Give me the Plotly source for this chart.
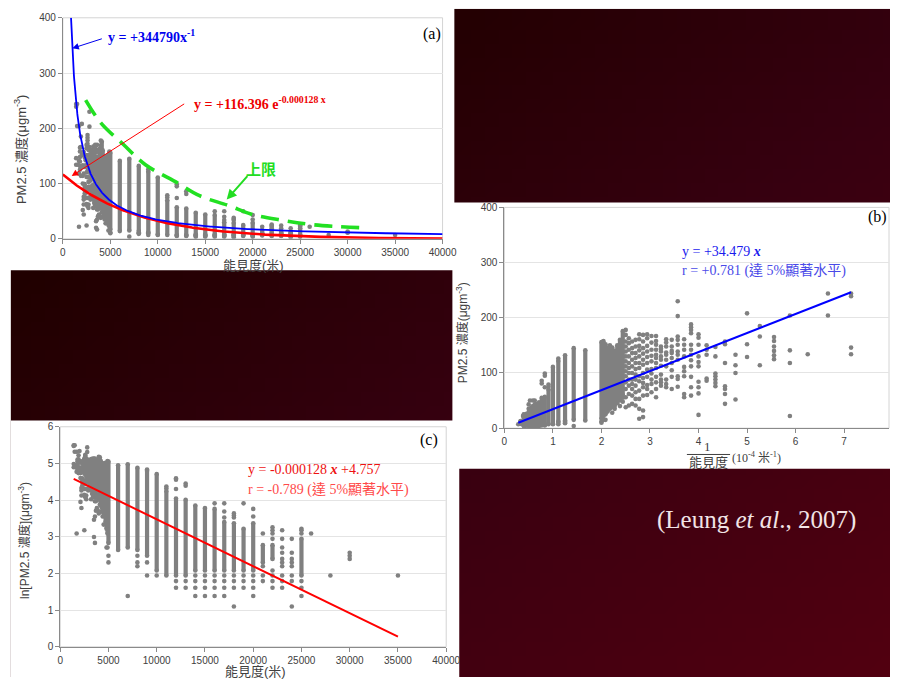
import math, zlib, struct, base64
import plotly.graph_objects as go

W, H = 904, 683

# ---------------- data (visibility in m, PM2.5 in ug/m3) ----------------
# individually readable points for visibility < 4100 m
cloud_vis = [1400, 1500, 1600, 1700, 1800, 1900, 2000, 2100, 2200, 2300, 2400, 2500, 2600,
             2700, 2800, 2900, 3000, 3100, 3200, 3300, 3400, 3500, 3600, 3700, 3800, 3900, 4000]
cloud_pm = [
    [244, 239, 146, 134],
    [244, 204],
    [134],
    [204, 141, 118, 22],
    [165, 158, 148, 140, 132, 125],
    [185, 166, 114],
    [208, 152, 129],
    [133, 114, 100, 52],
    [157, 152, 118, 76, 71, 62, 44],
    [147, 130, 99, 94, 88, 82, 76],
    [150, 142, 133, 90, 86],
    [170, 164, 151, 130, 120, 112, 84, 74, 63, 24],
    [188, 183, 178, 172, 151, 142, 133, 123, 112, 93, 74, 59],
    [161, 151, 142, 130, 111, 103, 94, 62, 56],
    [230, 203, 166, 160, 151, 139, 133, 124, 94, 89, 75],
    [160, 148, 140, 136, 127, 118, 105, 93, 71],
    [161, 155, 148, 137, 133, 124, 112, 88, 80, 74],
    [148, 144, 139, 130, 124, 113, 97, 88, 83, 77],
    [167, 158, 151, 142, 133, 127, 118, 109, 93, 83, 71, 56],
    [167, 155, 142, 131, 121, 107, 99, 88, 80, 65],
    [170, 163, 149, 139, 129, 118, 106, 93, 78, 71, 60],
    [169, 157, 145, 135, 124, 115, 100, 91, 82, 74, 59, 32, 20],
    [170, 161, 149, 141, 130, 118, 109, 94, 85, 68, 53, 35, 17],
    [160, 148, 136, 127, 118, 107, 97, 88, 77, 65, 53, 41],
    [157, 145, 136, 124, 112, 100, 88, 80, 71, 59, 44],
    [163, 154, 142, 130, 118, 109, 100, 88, 77, 62, 41],
    [178, 169, 157, 148, 139, 130, 121, 112, 103, 94, 83, 71, 56, 38],
]

# densely packed columns: visibility, lowest and highest PM2.5 of the packed run
dense_vis = [4100, 4200, 4300, 4400, 4500, 4600, 4700, 4800, 4900, 5000, 6000, 7000, 8000, 9000,
             10000, 11000, 12000, 13000, 14000, 15000, 16000, 17000, 18000, 19000, 20000, 21000,
             22000, 25000]
dense_lo = [60, 50, 45, 40, 38, 35, 30, 25, 22, 17, 14, 15, 14, 12, 8, 7, 7, 7, 8, 8, 8, 8, 8, 8, 8,
            10, 11, 7]
dense_hi = [176, 160, 150, 140, 146, 150, 145, 152, 158, 156, 141, 145, 132, 122, 111, 70, 57, 55,
            47, 44, 43, 30, 29, 25, 29, 16, 16, 19]

# separate points outside the packed runs
extra_vis = [4100, 4200, 4400, 4500, 4800, 4900, 5000, 7000, 8000, 9000, 10000, 11000, 12000, 13000,
             14000, 15000, 16000, 17000, 18000, 19000, 20000, 21000, 22000, 23000, 24000, 25000,
             26000, 28000, 30000, 35000]
extra_pm = [
    [48, 55], [40], [35], [28], [15], [15], [12, 10], [4], [12, 10, 9], [126, 10, 7], [7], [79, 75],
    [99, 95, 74, 6, 5], [86, 81, 6, 5], [7, 6, 5, 4], [7, 6, 5, 4], [50, 7, 6, 5, 4],
    [50, 40, 34, 7, 6, 5, 4], [38, 36, 34, 7, 6, 5, 3], [50, 7, 6, 5], [43, 35, 7, 6, 5, 4],
    [22, 9, 7, 6], [26, 24, 22, 19, 8, 7, 6, 5], [24, 19, 15, 13, 11, 10, 9, 7, 6, 5],
    [19, 13, 11, 10, 9, 7, 6, 3], [25, 24, 22, 6, 5, 4], [22], [7], [13, 12, 11], [7],
]

# hand-drawn upper-limit curve in panel (a)
upper_vis = [2400, 4000, 6300, 8700, 12100, 14400, 17500, 19800, 23000, 26400, 31500]
upper_pm = [251, 210, 172, 134, 101, 78, 60, 45, 34, 25.5, 20]

# fitted equations shown in the figure
pow_coef = 344790.0          # y = 344790 x^-1
exp_a, exp_b = 116.396, -0.000128
lin_b_slope = 34.479
lin_c_slope, lin_c_icpt = -0.000128, 4.757

# ---------------- helpers ----------------
def px(x):
    return x / W

def py(y):
    return 1 - y / H

GRAY = "#808080"
pts_v, pts_p = [], []
for v, ps in zip(cloud_vis + extra_vis, cloud_pm + extra_pm):
    for p in ps:
        pts_v.append(v)
        pts_p.append(p)
for v, lo, hi in zip(dense_vis, dense_lo, dense_hi):
    pts_v += [v, v]
    pts_p += [lo, hi]


def seg_xy(fx, fy):
    xs, ys = [], []
    for v, lo, hi in zip(dense_vis, dense_lo, dense_hi):
        xs += [fx(v), fx(v), None]
        ys += [fy(lo), fy(hi), None]
    return xs, ys


fig = go.Figure()
panels = [
    ("x", "y", lambda v: v, lambda p: p),
    ("x2", "y2", lambda v: 1e4 / v, lambda p: p),
    ("x3", "y3", lambda v: v, lambda p: math.log(p)),
]
for xa, ya, fx, fy in panels:
    sx, sy = seg_xy(fx, fy)
    fig.add_trace(go.Scatter(x=sx, y=sy, mode="lines", xaxis=xa, yaxis=ya,
                             line=dict(color=GRAY, width=4.2), hoverinfo="skip"))
    fig.add_trace(go.Scatter(x=[fx(v) for v in pts_v], y=[fy(p) for p in pts_p], mode="markers",
                             xaxis=xa, yaxis=ya, marker=dict(color=GRAY, size=4.6, line=dict(width=0)),
                             hoverinfo="skip"))

# panel (a) curves
x_start = pow_coef / 400
xs_pow = sorted(set([x_start + i * 20 for i in range(200)] +
                    [x_start + i * (40000 - x_start) / 400 for i in range(401)]))
xs_exp = [i * 100 for i in range(401)]
fig.add_trace(go.Scatter(x=xs_exp, y=[exp_a * math.exp(exp_b * x) for x in xs_exp],
                         mode="lines", line=dict(color="#ff0000", width=2.6), xaxis="x", yaxis="y"))
fig.add_trace(go.Scatter(x=xs_pow, y=[pow_coef / x for x in xs_pow], mode="lines",
                         line=dict(color="#0000ff", width=1.8), xaxis="x", yaxis="y"))
fig.add_trace(go.Scatter(x=upper_vis, y=upper_pm, mode="lines", line_shape="spline",
                         line=dict(color="#22e022", width=3.6, dash="18px,9px"), xaxis="x", yaxis="y"))

# panel (b) line
bx = [1e4 / max(pts_v), 1e4 / min(pts_v)]
fig.add_trace(go.Scatter(x=bx, y=[lin_b_slope * x for x in bx], mode="lines",
                         line=dict(color="#0000ff", width=2), xaxis="x2", yaxis="y2"))
# panel (c) line
cx = [min(pts_v), max(pts_v)]
fig.add_trace(go.Scatter(x=cx, y=[lin_c_slope * x + lin_c_icpt for x in cx], mode="lines",
                         line=dict(color="#ff0000", width=2), xaxis="x3", yaxis="y3"))

# ---------------- background gradient image ----------------
def make_png(w, h, fn):
    raw = b"".join(b"\x00" + bytes([c for x in range(w) for c in fn(x, y)]) for y in range(h))

    def chunk(t, d):
        return struct.pack(">I", len(d)) + t + d + struct.pack(">I", zlib.crc32(t + d) & 0xffffffff)

    return (b"\x89PNG\r\n\x1a\n" + chunk(b"IHDR", struct.pack(">IIBBBBB", w, h, 8, 2, 0, 0, 0))
            + chunk(b"IDAT", zlib.compress(raw)) + chunk(b"IEND", b""))


IW, IH = 64, 48


def grad(x, y):
    u = (8 + x / (IW - 1) * 896) / W
    v = (3 + y / (IH - 1) * 680) / H
    t = (u + v) / 2
    r = int(20 + 62 * t)
    b = int(max(0, min(16, (t - 0.2) * 45)))
    return (r, 0, b)


png = base64.b64encode(make_png(IW, IH, grad)).decode()

# ---------------- layout ----------------
tickfont = dict(family="Liberation Sans, Arial", size=10, color="#404040")
axis_common = dict(showline=True, linecolor="#8a8a8a", linewidth=1, ticks="outside", ticklen=4,
                   tickcolor="#8a8a8a", zeroline=False, tickfont=tickfont, fixedrange=True)

fig.update_layout(
    width=W, height=H, margin=dict(l=0, r=0, t=0, b=0), showlegend=False,
    paper_bgcolor="white", plot_bgcolor="rgba(0,0,0,0)",
    xaxis=dict(domain=[px(61), px(448)], range=[0, 40000], dtick=5000, tickformat="d",
               showgrid=False, anchor="y", **axis_common),
    yaxis=dict(domain=[py(237), py(12)], range=[0, 400], dtick=100, showgrid=True,
               gridcolor="#e4e4e4", anchor="x", **axis_common),
    xaxis2=dict(domain=[px(511), px(903)], range=[0, 7.925], dtick=1, showgrid=False,
                anchor="y2", **axis_common),
    yaxis2=dict(domain=[py(429.7), py(205)], range=[0, 400], dtick=100, showgrid=True,
                gridcolor="#e4e4e4", anchor="x2", **axis_common),
    xaxis3=dict(domain=[px(58.3), px(451.7)], range=[0, 40000], dtick=5000, tickformat="d",
                showgrid=False, anchor="y3", **axis_common),
    yaxis3=dict(domain=[py(652.3), py(428.3)], range=[0, 6], dtick=1, showgrid=True,
                gridcolor="#e4e4e4", anchor="x3", **axis_common),
    images=[dict(source="data:image/png;base64," + png, xref="paper", yref="paper",
                 x=px(8), y=py(3), sizex=896 / W, sizey=680 / H, xanchor="left", yanchor="top",
                 sizing="stretch", layer="below")],
)

shapes = []
for (x0, y0, x1, y1) in [(0, 0, 460, 269), (458, 200, 904, 471), (8, 422, 465, 683)]:
    shapes.append(dict(type="rect", xref="paper", yref="paper", x0=px(x0), x1=px(x1), y0=py(y1),
                       y1=py(y0), fillcolor="white", line=dict(width=0), layer="below"))
for xr, yr in [("x", "y"), ("x2", "y2"), ("x3", "y3")]:
    shapes.append(dict(type="rect", xref=xr + " domain", yref=yr + " domain", x0=0, x1=1, y0=0, y1=1,
                       line=dict(color="#d4d4d4", width=1), layer="below"))
# fraction bar in panel (b) axis title
shapes.append(dict(type="line", xref="paper", yref="paper", x0=px(697), x1=px(741), y0=py(456.5),
                   y1=py(456.5), line=dict(color="#404040", width=1)))
fig.update_layout(shapes=shapes)

SERIF = "Liberation Serif, Times New Roman, Noto Sans CJK TC"
SANS = "Liberation Sans, Arial, Noto Sans CJK TC"
anns = []


def text(t, x, y, size, color, family=SERIF, xanchor="left", angle=0):
    anns.append(dict(text=t, x=px(x), y=py(y), xref="paper", yref="paper", showarrow=False,
                     xanchor=xanchor, yanchor="middle", textangle=angle,
                     font=dict(family=family, size=size, color=color)))


def arrow(xr, yr, x, y, ax, ay, color, width):
    anns.append(dict(text="", x=x, y=y, xref=xr, yref=yr, ax=ax, ay=ay, showarrow=True,
                     arrowhead=2, arrowsize=1.3 if width < 1.5 else 1, arrowwidth=width,
                     arrowcolor=color))


# panel labels
text("(a)", 437, 28, 16, "black", xanchor="center")
text("(b)", 891, 215, 16, "black", xanchor="center")
text("(c)", 434, 442, 16, "black", xanchor="center")
# axis titles
text("PM2.5 濃度(μgm<sup>-3</sup>)", 18, 146, 13, "#404040", SANS, "center", -90)
text("能見度(米)", 255, 264, 13, "#404040", SANS, "center")
text("PM2.5 濃度(μgm<sup>-3</sup>)", 468, 333, 12, "#404040", SANS, "center", -90)
text("1", 718, 448, 13, "#404040", SERIF, "center")
text("能見度", 719, 465, 13, "#404040", SANS, "center")
text("(10<sup>-4</sup> 米<sup>-1</sup>)", 768, 460, 12, "#404040", SERIF, "center")
text("ln[PM2.5 濃度](μgm<sup>-3</sup>)", 22, 544, 12, "#404040", SANS, "center", -90)
text("能見度(米)", 257, 677, 13, "#404040", SANS, "center")
# equations
text("<b>y = +344790x<sup>-1</sup></b>", 105, 31, 14, "#0000ee")
text("<b>y = +116.396 e<sup>-0.000128 x</sup></b>", 193, 99, 14, "#ee0000")
text("<b>上限</b>", 246, 167, 15, "#22dd22")
text("y = +34.479 <b><i>x</i></b>", 690, 250, 14, "#1a1aee")
text("r = +0.781 (達 5%顯著水平)", 690, 270, 14, "#4a4ae8")
text("y = -0.000128 <b><i>x</i></b> +4.757", 248, 472, 14, "#ee1111")
text("r = -0.789 (達 5%顯著水平)", 248, 493, 14, "#ff4a4a")
text("(Leung <i>et al</i>., 2007)", 768, 523, 25, "#f2e4e6", SERIF, "center")
# arrows in panel (a)
arrow("x", "y", 1000, pow_coef / 1000, 31, -10, "#0000ee", 1)
arrow("x", "y", 930, 113.8, 114, -73, "#ff0000", 1)
arrow("x", "y", 17261, 71, 22, -25, "#22dd22", 2)
fig.update_layout(annotations=anns)

fig.write_html("out.html", config={"displayModeBar": False})
